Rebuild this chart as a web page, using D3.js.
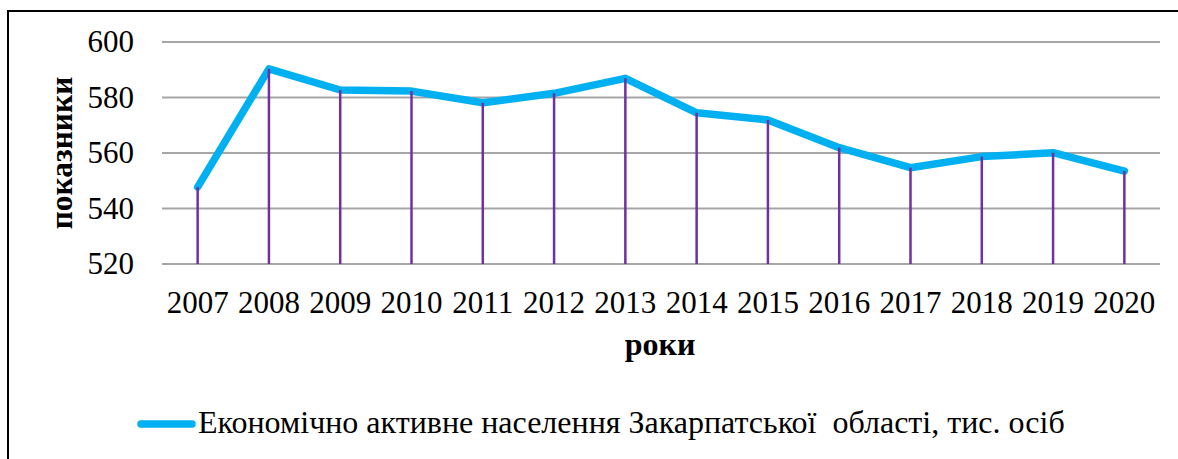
<!DOCTYPE html>
<html>
  <head>
    <meta charset="utf-8">
    <title>Економічно активне населення Закарпатської області</title>
    <style type="text/css">
      body { margin: 0; background: #fff; }
      svg { display: block; }
    </style>
  </head>
  <body>
    <div id="chart"></div>
    <script src="https://d3js.org/d3.v7.min.js"></script>
    <script>

    // data
    var years = ["2007", "2008", "2009", "2010", "2011", "2012", "2013",
                 "2014", "2015", "2016", "2017", "2018", "2019", "2020"];
    var population = [547.7, 590.3, 582.7, 582.3, 578.1, 581.5, 586.9,
                      574.5, 571.9, 561.9, 554.7, 558.7, 560.1, 553.5];
    var yTicks = [520, 540, 560, 580, 600];
    var seriesName = "Економічно активне населення Закарпатської  області, тис. осіб";

    var data = years.map(function(y, i) { return {year: y, value: population[i]}; });

    var width = 1178,
        height = 459;
    var serif = "Liberation Serif";

    var plot = {left: 162, right: 1160, top: 42, bottom: 264};

    var svg = d3.select("#chart").append("svg")
      .attr("width", width)
      .attr("height", height)
      .attr("font-family", serif);

    // outer frame (runs past the right and bottom edge of the picture)
    svg.append("rect")
      .attr("x", 8).attr("y", 11)
      .attr("width", 1200).attr("height", 500)
      .attr("fill", "none")
      .attr("stroke", "#000")
      .attr("stroke-width", 2);

    var x = d3.scaleBand().domain(years).range([plot.left, plot.right]).padding(0);
    var y = d3.scaleLinear().domain([520, 600]).range([plot.bottom, plot.top]);

    function cx(d) { return x(d.year) + x.bandwidth() / 2; }

    // gridlines
    svg.append("g")
      .selectAll("line")
      .data(yTicks)
      .enter().append("line")
      .attr("x1", plot.left).attr("x2", plot.right)
      .attr("y1", function(d) { return y(d); })
      .attr("y2", function(d) { return y(d); })
      .attr("stroke", "#a6a6a6")
      .attr("stroke-width", 2);

    // y axis labels
    var yAxis = svg.append("g")
      .attr("transform", "translate(" + plot.left + ",0)")
      .call(d3.axisLeft(y).tickValues(yTicks).tickSize(0).tickPadding(28));
    yAxis.attr("font-family", serif).attr("font-size", 31);
    yAxis.select(".domain").remove();
    yAxis.selectAll("text").attr("fill", "#000");

    // x axis labels
    var xAxis = svg.append("g")
      .attr("transform", "translate(0," + plot.bottom + ")")
      .call(d3.axisBottom(x).tickSize(0).tickPadding(27));
    xAxis.attr("font-family", serif).attr("font-size", 31);
    xAxis.select(".domain").remove();
    xAxis.selectAll("text").attr("fill", "#000");

    // series line
    var line = d3.line()
      .x(cx)
      .y(function(d) { return y(d.value); });

    svg.append("path")
      .datum(data)
      .attr("d", line)
      .attr("fill", "none")
      .attr("stroke", "#00b0f0")
      .attr("stroke-width", 7.5)
      .attr("stroke-linejoin", "round")
      .attr("stroke-linecap", "round");

    // drop lines
    svg.append("g")
      .selectAll("line")
      .data(data)
      .enter().append("line")
      .attr("x1", cx).attr("x2", cx)
      .attr("y1", function(d) { return y(d.value); })
      .attr("y2", y(520))
      .attr("stroke", "#7030a0")
      .attr("stroke-width", 2.5);

    // axis titles
    svg.append("text")
      .attr("transform", "translate(72,153) rotate(-90)")
      .attr("text-anchor", "middle")
      .attr("font-size", 31.5)
      .attr("font-weight", "bold")
      .text("показники");

    svg.append("text")
      .attr("x", 660).attr("y", 355)
      .attr("text-anchor", "middle")
      .attr("font-size", 32)
      .attr("font-weight", "bold")
      .text("роки");

    // legend
    var legend = svg.append("g").attr("transform", "translate(0,424)");
    legend.append("line")
      .attr("x1", 141).attr("x2", 192)
      .attr("stroke", "#00b0f0")
      .attr("stroke-width", 7.5)
      .attr("stroke-linecap", "round");
    legend.append("text")
      .attr("x", 198).attr("y", 9)
      .attr("font-size", 32)
      .attr("xml:space", "preserve")
      .style("white-space", "pre")
      .text(seriesName);

    </script>
  </body>
</html>
